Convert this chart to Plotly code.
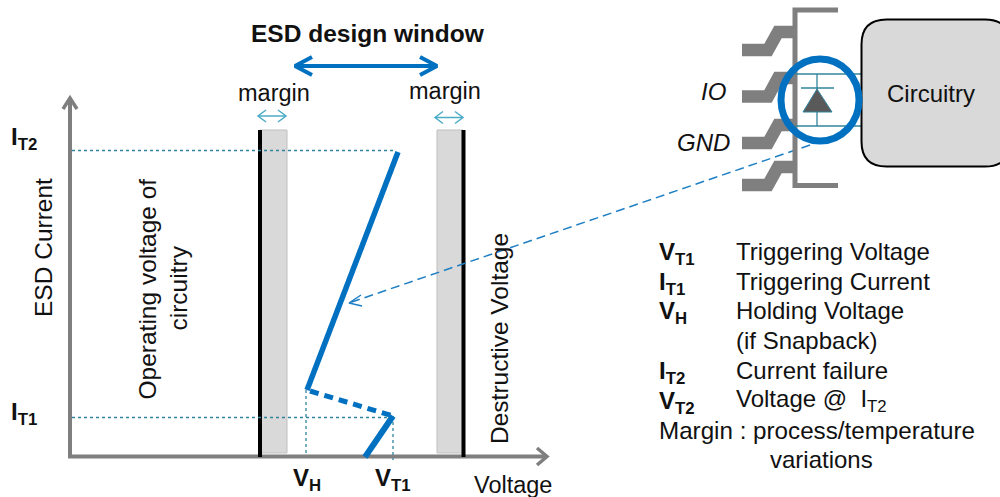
import plotly.graph_objects as go

# ---- diagram geometry (picture units) ----
axis_x = [70, 70, 547]
axis_y = [99, 456.5, 456.5]
axis_head_y_x = [63, 70, 77]
axis_head_y_y = [109, 98, 109]
axis_head_x_x = [537, 547, 537]
axis_head_x_y = [448, 456.5, 465]

margin_left_x = [260, 287, 287, 260, 260]
margin_left_y = [130, 130, 453, 453, 130]
margin_right_x = [437, 463, 463, 437, 437]
margin_right_y = [130, 130, 453, 453, 130]

limit_left_x = [260, 260]
limit_right_x = [463.5, 463.5]
limit_y = [130, 457]

it2_x = [72, 396]
it2_y = [150.5, 150.5]
it1_x = [72, 393]
it1_y = [417.5, 417.5]
vh_x = [306, 306]
vh_y = [390, 453]
vt1_x = [393, 393]
vt1_y = [416, 460]

curve_high_x = [398, 307]
curve_high_y = [152, 390]
curve_snap_x = [310, 393]
curve_snap_y = [391, 416]
curve_low_x = [365, 393]
curve_low_y = [457, 416]

window_x = [296, 436]
window_y = [66, 66]
window_head_l_x = [312, 295, 312]
window_head_l_y = [57, 66, 75]
window_head_r_x = [420, 437, 420]
window_head_r_y = [57, 66, 75]

m1_x = [258, 286]
m1_y = [116, 116]
m1_head_l_x = [266, 258, 266]
m1_head_l_y = [110, 116, 122]
m1_head_r_x = [278, 286, 278]
m1_head_r_y = [110, 116, 122]
m2_x = [435, 463]
m2_y = [117.5, 117.5]
m2_head_l_x = [443, 435, 443]
m2_head_l_y = [111.5, 117.5, 123.5]
m2_head_r_x = [455, 463, 455]
m2_head_r_y = [111.5, 117.5, 123.5]

link_x = [810, 349]
link_y = [145, 303]
link_head_x = [361, 349, 362]
link_head_y = [295, 303, 306]

pkg_x = [838, 795, 795, 838]
pkg_y = [10, 10, 185.5, 185.5]
lead_x = [742, 768, 778, 795]
lead1_y = [50, 50, 32, 32]
lead2_y = [96.5, 96.5, 78, 78]
lead3_y = [143, 143, 125, 125]
lead4_y = [185, 185, 167, 167]

rail_x = [795, 861]
rail_top_y = [74, 74]
rail_bot_y = [126, 126]
diode_x = [817, 817]
diode_y = [74, 126]
cath_x = [801, 834]
cath_y = [88, 88]
tri_x = [817, 803, 832, 817]
tri_y = [89, 112, 112, 89]

BLUE = "#0070c0"
TEAL = "#31849b"
LTEAL = "#4bacc6"
GREY = "#7f7f7f"
FILL = "#d9d9d9"

fig = go.Figure()


def line(x, y, color, width, dash="solid", cap=None):
    fig.add_trace(go.Scatter(x=x, y=y, mode="lines", hoverinfo="skip",
                             line=dict(color=color, width=width, dash=dash)))


def poly(x, y, fill, color, width):
    fig.add_trace(go.Scatter(x=x, y=y, mode="lines", fill="toself", fillcolor=fill,
                             hoverinfo="skip", line=dict(color=color, width=width)))


poly(margin_left_x, margin_left_y, FILL, "#bfbfbf", 1)
poly(margin_right_x, margin_right_y, FILL, "#bfbfbf", 1)
line(axis_x, axis_y, GREY, 4)
line(axis_head_y_x, axis_head_y_y, GREY, 3.5)
line(axis_head_x_x, axis_head_x_y, GREY, 3.5)
line(limit_left_x, limit_y, "#000000", 4)
line(limit_right_x, limit_y, "#000000", 4)
for xs, ys in [(it2_x, it2_y), (it1_x, it1_y), (vh_x, vh_y), (vt1_x, vt1_y)]:
    line(xs, ys, TEAL, 1.3, "dot")
line(curve_high_x, curve_high_y, BLUE, 5.5)
line(curve_snap_x, curve_snap_y, BLUE, 5, "9px,6px")
line(curve_low_x, curve_low_y, BLUE, 6)
line(window_x, window_y, BLUE, 4)
line(window_head_l_x, window_head_l_y, BLUE, 4)
line(window_head_r_x, window_head_r_y, BLUE, 4)
for xs, ys in [(m1_x, m1_y), (m2_x, m2_y), (m1_head_l_x, m1_head_l_y), (m1_head_r_x, m1_head_r_y),
               (m2_head_l_x, m2_head_l_y), (m2_head_r_x, m2_head_r_y)]:
    line(xs, ys, LTEAL, 1.5)
line(link_x, link_y, "#1f7fc4", 1.5, "9px,5px")
line(link_head_x, link_head_y, "#1f7fc4", 1.5)

line(pkg_x, pkg_y, GREY, 5)
for ly in (lead1_y, lead2_y, lead3_y, lead4_y):
    line(lead_x, ly, GREY, 12.5)
line(rail_x, rail_top_y, TEAL, 1.3)
line(rail_x, rail_bot_y, TEAL, 1.3)
line(diode_x, diode_y, TEAL, 1.3)
line(cath_x, cath_y, TEAL, 1.3)
poly(tri_x, tri_y, "#595959", TEAL, 1)

# rounded block and the ring
R = 25
X0, X1, Y0, Y1 = 861.5, 1010, 19.5, 166.5
fig.add_shape(type="path", xref="x", yref="y", layer="above",
              path=(f"M{X0+R},{Y0} L{X1-R},{Y0} Q{X1},{Y0} {X1},{Y0+R} L{X1},{Y1-R} Q{X1},{Y1} {X1-R},{Y1} "
                    f"L{X0+R},{Y1} Q{X0},{Y1} {X0},{Y1-R} L{X0},{Y0+R} Q{X0},{Y0} {X0+R},{Y0} Z"),
              fillcolor=FILL, line=dict(color="#000000", width=2))
fig.add_shape(type="circle", xref="x", yref="y", layer="above", x0=781, x1=859, y0=59, y1=141,
              line=dict(color=BLUE, width=7))

FONT = "Liberation Sans"


def text(x, y, s, size=24, angle=0, anchor="center", color="#111111"):
    fig.add_annotation(x=x, y=y, text=s, showarrow=False, textangle=angle, xanchor=anchor,
                       yanchor="middle", font=dict(family=FONT, size=size, color=color),
                       align="center" if anchor == "center" else "left")


def b(main, sub):
    return f"<b>{main}<sub>{sub}</sub></b>"


text(368, 33, "<b>ESD design window</b>", 24.5)
text(274, 93, "margin", 23.5)
text(445, 91, "margin", 23.5)
text(24, 138, b("I", "T2"), 24)
text(24, 413, b("I", "T1"), 24)
text(307, 479, b("V", "H"), 24)
text(393, 479, b("V", "T1"), 24)
text(513, 485, "Voltage", 23.5)
text(43, 248, "ESD Current", 24.5, -90)
text(146.5, 289, "Operating voltage of", 24.5, -90)
text(177.5, 288, "circuitry", 24.5, -90)
text(499, 339, "Destructive Voltage", 24.5, -90)
text(713, 91, "<i>IO</i>", 24)
text(703, 142, "<i>GND</i>", 24)
text(931, 93, "Circuitry", 24)

keys = [(252, b("V", "T1")), (282, b("I", "T1")), (311, b("V", "H")), (371, b("I", "T2")), (401, b("V", "T2"))]
for ky, k in keys:
    text(657, ky + 1, k, 24, anchor="left")
desc = [(251, "Triggering Voltage"), (281, "Triggering Current"), (310, "Holding Voltage"),
        (340, "(if Snapback)"), (370, "Current failure"), (400, "Voltage @  I<sub>T2</sub>")]
for dy, d in desc:
    text(734, dy, d, 24, anchor="left")
text(657, 430, "Margin : process/temperature", 24.2, anchor="left")
text(821, 459, "variations", 24)

fig.update_layout(width=1000, height=497, margin=dict(l=0, r=0, t=0, b=0), showlegend=False,
                  paper_bgcolor="white", plot_bgcolor="white",
                  xaxis=dict(range=[0, 1000], visible=False, fixedrange=True),
                  yaxis=dict(range=[497, 0], visible=False, fixedrange=True))
fig.write_html("out.html", config=dict(displayModeBar=False),
               post_script="document.body.style.margin='0';document.documentElement.style.overflow='hidden';")
